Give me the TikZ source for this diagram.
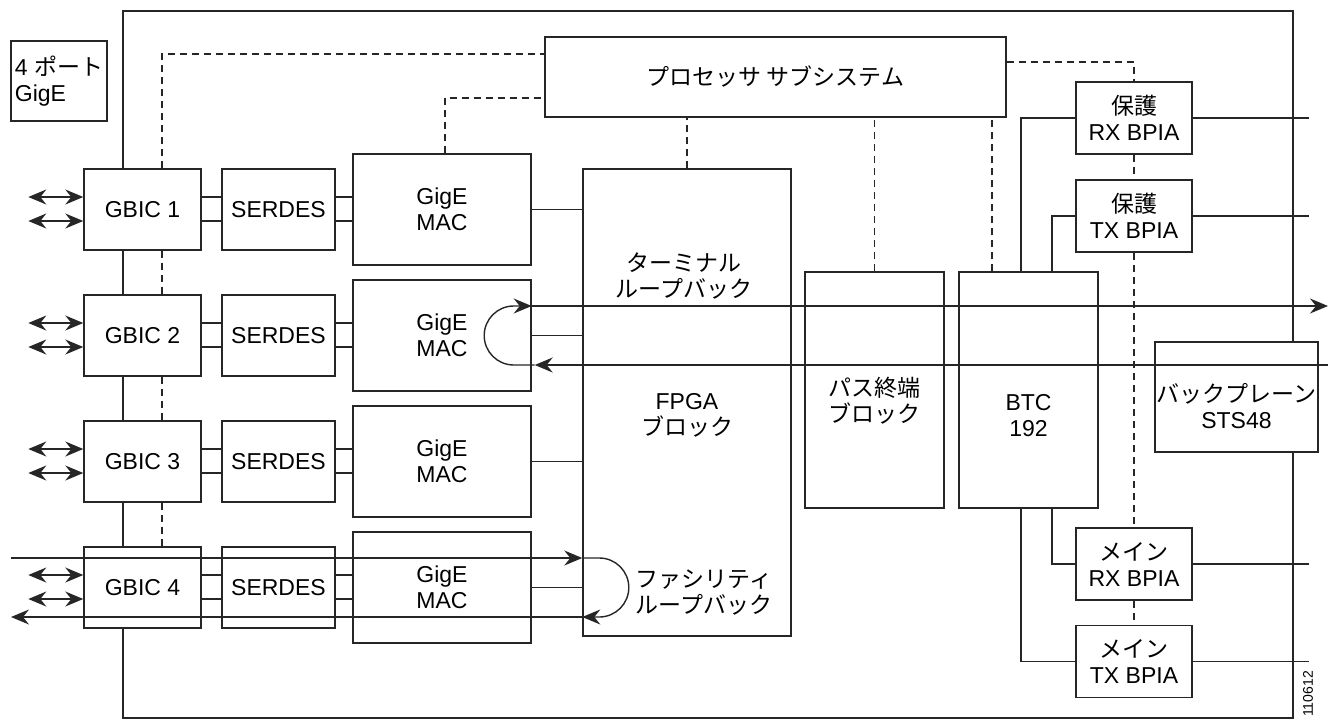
\documentclass[tikz,border=0pt]{standalone}
\usepackage{fontspec}
\setmainfont{Liberation Sans}
\newfontfamily\jpfont{Noto Sans CJK JP}
\usetikzlibrary{arrows.meta,positioning}

\begin{document}
\begin{tikzpicture}[x=0.5pt,y=-0.5pt,
  blk/.style={rectangle, draw=black!85, line width=0.7pt, inner sep=1pt, align=center,
              font=\fontsize{11.5}{13}\selectfont},
  gb/.style={blk, minimum width=58.5pt, minimum height=40.5pt},
  sd/.style={blk, minimum width=56.5pt, minimum height=40.5pt},
  mac/.style={blk, minimum width=89pt, minimum height=55.5pt},
  bpia/.style={blk, minimum width=58pt, minimum height=36pt},
  big/.style={blk, minimum width=69.5pt, minimum height=118pt},
  txt/.style={align=center, inner sep=0pt, font=\fontsize{11.5}{13}\selectfont},
  jtxt/.style={txt, font=\fontsize{11.5}{13}\selectfont\jpfont},
  ln/.style={line width=0.7pt, draw=black!85},
  dsh/.style={ln, dash pattern=on 3.5pt off 2.5pt},
  ar/.style={ln, -{Stealth[length=9pt,width=7.5pt,inset=3pt]}},
  dar/.style={ln, {Stealth[length=9pt,width=7.5pt,inset=3pt]}-{Stealth[length=9pt,width=7.5pt,inset=3pt]}},
]
\useasboundingbox (0,0) rectangle (1329,719);

% blocks
\node[blk, minimum width=48pt, minimum height=40pt, align=left] (port) at (59,81) {4 {\jpfont ポート}\\GigE};
\node[blk, minimum width=230.5pt, minimum height=40pt] (proc) at (775.5,77) {\jpfont プロセッサ サブシステム};

\foreach \i/\y in {1/209.5,2/335.5,3/461.5,4/587.5}{
  \node[gb] (g\i) at (142.5,\y) {GBIC \i};
  \node[sd] (s\i) at (278.5,\y) {SERDES};
  \node[mac] (m\i) at (442,\y) {GigE\\MAC};
}

\node[blk, minimum width=104pt, minimum height=233.5pt] (fpga) at (687,402.5) {};
\node[txt] (fpgatxt) at (687,415.5) {FPGA\\{\jpfont ブロック}};
\node[jtxt] (term) at (684,276) {ターミナル\\ループバック};
\node[jtxt] (fac) at (704,592.5) {ファシリティ\\ループバック};

\node[big] (pt) at (874.5,390) {};
\node[jtxt] (pttxt) at (874.5,400.5) {パス終端\\ブロック};
\node[big] (btc) at (1028.5,390) {};
\node[txt] (btctxt) at (1028.5,416) {BTC\\192};

\node[bpia] (prx) at (1134,118) {{\jpfont 保護}\\RX BPIA};
\node[bpia] (ptx) at (1134,216) {{\jpfont 保護}\\TX BPIA};
\node[bpia] (mrx) at (1134,564) {{\jpfont メイン}\\RX BPIA};
\node[bpia] (mtx) at (1134,661.5) {{\jpfont メイン}\\TX BPIA};

\node[blk, minimum width=81.5pt, minimum height=55pt] (bp) at (1236.5,397) {};
\node[txt] (bptxt) at (1236.5,406.5) {{\jpfont バックプレーン}\\STS48};

\node[rotate=90, inner sep=0pt, font=\fontsize{7}{8}\selectfont] (fig) at (1308,694) {110612};

% helper points
\coordinate (fl) at (123,11);
\coordinate (fr) at (1293,11);
\coordinate (fb) at (123,718);
\coordinate (lft) at (11,0);
\coordinate (rgt) at (1328,0);
\coordinate (bpe) at (1309,0);
\coordinate (dx) at (162,54);
\coordinate (dm) at (445,98);
\coordinate (db) at (992,0);
\coordinate (dr) at (1134,62);
\coordinate (ba) at (1021,0);
\coordinate (bb) at (1052,0);

% card outline
\draw[ln] (g1.north -| fl) -- (fl) -- (fr) -- (bp.north -| fr);
\draw[ln] (bp.south -| fr) |- (fb) -- (g4.south -| fb);
\foreach \i/\j in {1/2,2/3,3/4} \draw[ln] (g\i.south -| fl) -- (g\j.north -| fl);

% processor bus
\draw[dsh] (g1.north -| dx) -- (dx) -- (dx -| proc.west);
\foreach \i/\j in {1/2,2/3,3/4} \draw[dsh] (g\i.south -| dx) -- (g\j.north -| dx);
\draw[dsh] (m1.north -| dm) -- (dm) -- (dm -| proc.west);
\draw[dsh] (fpga.north) -- (fpga.north |- proc.south);
\draw[dsh] (pt.north) -- (pt.north |- proc.south);
\draw[dsh] (btc.north -| db) -- (proc.south -| db);
\draw[dsh] (proc.east |- dr) -- (dr) -- (prx.north);
\draw[dsh] (prx.south) -- (ptx.north);
\draw[dsh] (ptx.south) -- (mrx.north);
\draw[dsh] (mrx.south) -- (mtx.north);

% port chains
\foreach \i in {1,...,4}{
  \draw[dar] ([yshift=6.25pt]g\i.west) -- ++(-27.5pt,0);
  \draw[dar] ([yshift=-5.75pt]g\i.west) -- ++(-27.5pt,0);
  \draw[ln] ([yshift=6.25pt]g\i.east) -- ([yshift=6.25pt]s\i.west);
  \draw[ln] ([yshift=-5.75pt]g\i.east) -- ([yshift=-5.75pt]s\i.west);
  \draw[ln] ([yshift=6.25pt]s\i.east) -- ([yshift=6.25pt]s\i.east -| m\i.west);
  \draw[ln] ([yshift=-5.75pt]s\i.east) -- ([yshift=-5.75pt]s\i.east -| m\i.west);
  \draw[ln] (m\i.east) -- (m\i.east -| fpga.west);
}

% BTC to BPIA
\draw[ln] (btc.north -| ba) |- (prx.west);
\draw[ln] (btc.north -| bb) |- (ptx.west);
\draw[ln] (btc.south -| bb) |- (mrx.west);
\draw[ln] (btc.south -| ba) |- (mtx.west);
\foreach \b in {prx,ptx,mrx,mtx} \draw[ln] (\b.east) -- (\b.east -| bpe);

% terminal loopback
\coordinate (tout) at ([yshift=14.75pt]m2.east);
\coordinate (tin) at ([yshift=-14.75pt]m2.east);
\draw[ar] (tout) -- (tout -| rgt);
\draw[ar] (tin -| rgt) -- ([xshift=1.5pt]tin);
\draw[ar] ([xshift=1.5pt]tin) -- ++(-10.5pt,0) arc[start angle=-90, end angle=-270, radius=14.75pt] -- (tout);

% facility loopback
\coordinate (f0) at (fpga.west |- m4.east);
\coordinate (fin) at ([yshift=14.75pt]f0);
\coordinate (fout) at ([yshift=-14.75pt]f0);
\draw[ar] (fin -| lft) -- (fin);
\draw[ar] (fin) -- ++(8.5pt,0) arc[start angle=90, end angle=-90, radius=14.75pt] -- (fout);
\draw[ar] (fout) -- (fout -| lft);
\end{tikzpicture}
\end{document}
